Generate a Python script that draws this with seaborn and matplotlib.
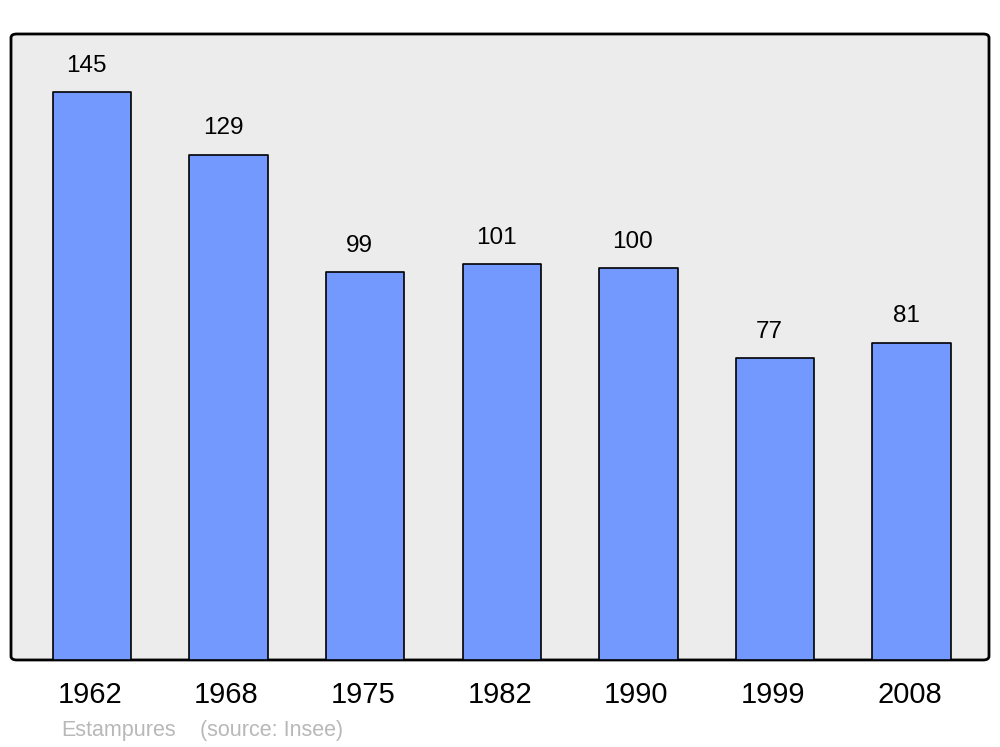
import pandas as pd
import seaborn as sns
import matplotlib.pyplot as plt
import matplotlib.transforms as mtransforms
from matplotlib.patches import FancyBboxPatch

# population by census year
years = ['1962', '1968', '1975', '1982', '1990', '1999', '2008']
population = [145, 129, 99, 101, 100, 77, 81]

df = pd.DataFrame({'year': years, 'pop': population})

sns.set_style('white')
plt.rcParams['font.family'] = ['Liberation Sans', 'DejaVu Sans']
plt.rcParams['text.color'] = 'black'
plt.rcParams['xtick.color'] = 'black'

fig = plt.figure(figsize=(10, 7.47), dpi=100)
ax = fig.add_axes([0.011, 0.1165, 0.978, 0.838])
ax.set_facecolor('none')

# rounded grey frame behind the bars
frame = FancyBboxPatch((0, 0), 1, 1, boxstyle='round,pad=0,rounding_size=0.006',
                       transform=ax.transAxes, facecolor='#ececec', edgecolor='black',
                       linewidth=2, zorder=0, clip_on=False)
ax.add_patch(frame)

sns.barplot(data=df, x='year', y='pop', color='#7399ff', saturation=1,
            width=0.575, edgecolor='black', linewidth=1.2, ax=ax, zorder=2)
for p in ax.patches:
    if p is not frame:
        p.set_joinstyle('round')

for i, v in enumerate(population):
    ax.text(i - 0.04, v + 6.7, str(v), ha='center', va='center', fontsize=17.5, color='black')

ax.set_xlim(-0.593, 6.567)
ax.set_ylim(0, 159.8)
ax.set_xlabel('')
ax.set_ylabel('')
ax.set_yticks([])
ax.tick_params(axis='x', length=0, pad=15, labelsize=21, labelcolor='black')
# nudge tick labels a little to the left
shift = mtransforms.ScaledTranslation(-2 / 100, 0, fig.dpi_scale_trans)
for lab in ax.get_xticklabels():
    lab.set_transform(lab.get_transform() + shift)
for s in ax.spines.values():
    s.set_visible(False)

fig.text(0.061, 0.0225, 'Estampures', color='#b8b8b8',
         fontsize=15.5, ha='left', va='center')
fig.text(0.200, 0.0225, '(source: Insee)', color='#b8b8b8',
         fontsize=15.5, ha='left', va='center')

plt.savefig('out.png', dpi=100)
